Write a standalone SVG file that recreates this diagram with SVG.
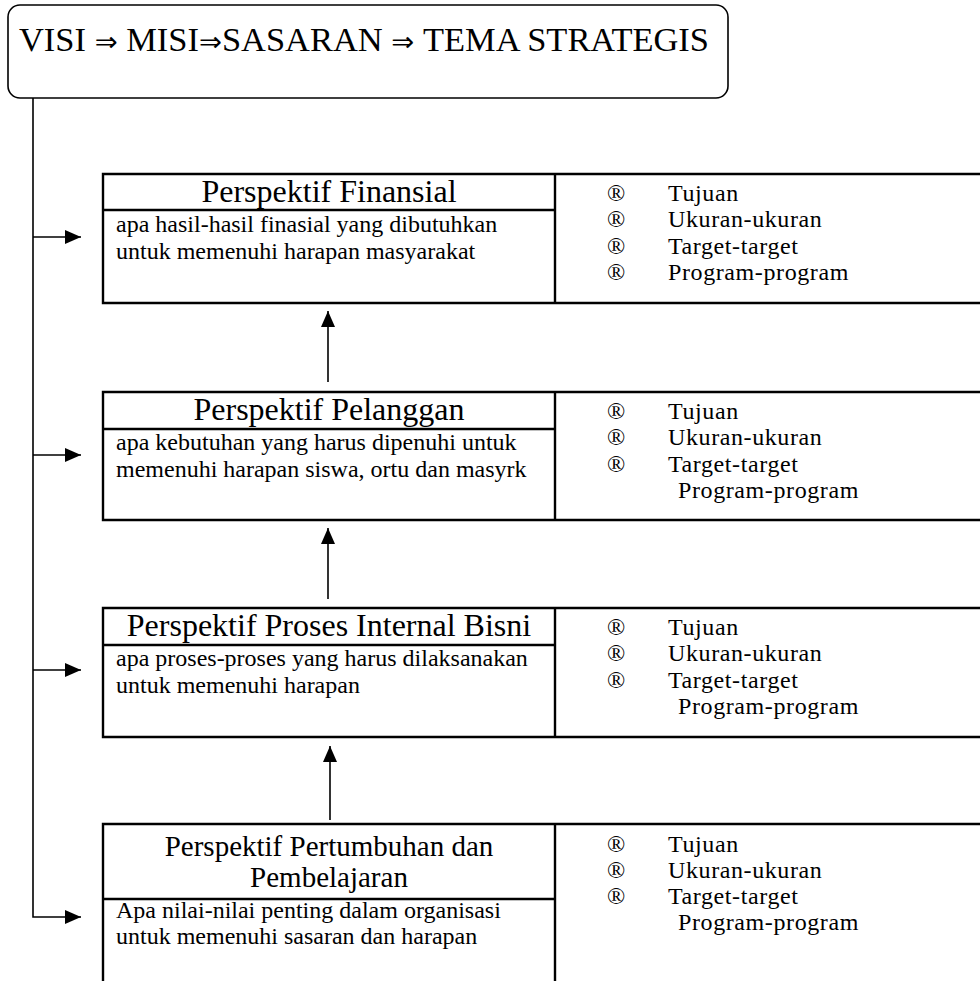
<svg xmlns="http://www.w3.org/2000/svg" width="980" height="981" viewBox="0 0 980 981">
<style>
text{font-family:"Liberation Serif","Times New Roman",serif;fill:#000}
.box{fill:none;stroke:#000;stroke-width:2.4}
.ln{fill:none;stroke:#000;stroke-width:1.6}
.hd{font-size:32px;text-anchor:middle}
.hd2{font-size:29px;text-anchor:middle}
.ds{font-size:24px}
.it{font-size:24px;letter-spacing:0.6px}
.tt{font-size:34px}
.ar{font-family:"DejaVu Sans",sans-serif;font-size:27px}
</style>
<defs>
<marker id="ahr" markerWidth="16" markerHeight="14" refX="16" refY="7" orient="auto" markerUnits="userSpaceOnUse" viewBox="0 0 16 14">
<path d="M0,0 L16,7 L0,14 Z" fill="#000"/>
</marker>
</defs>
<g id="top">
<rect x="8" y="5" width="720" height="93" rx="12" ry="12" fill="none" stroke="#000" stroke-width="1.6"/>
<text x="19" y="51" class="tt" textLength="690" lengthAdjust="spacingAndGlyphs">VISI<tspan class="ar"> ⇒ </tspan>MISI<tspan class="ar">⇒</tspan>SASARAN<tspan class="ar"> ⇒ </tspan> TEMA STRATEGIS</text>
</g>
<g id="connectors">
<path d="M33,98 V917 H81" class="ln" marker-end="url(#ahr)"/>
<path d="M33,237 H81" class="ln" marker-end="url(#ahr)"/>
<path d="M33,455 H81" class="ln" marker-end="url(#ahr)"/>
<path d="M33,670 H81" class="ln" marker-end="url(#ahr)"/>
<path d="M328,382 V311" class="ln" marker-end="url(#ahr)"/>
<path d="M328,599 V528" class="ln" marker-end="url(#ahr)"/>
<path d="M330,820 V746" class="ln" marker-end="url(#ahr)"/>
</g>
<g id="finansial">
<path d="M980,174 H103 V303 H980 M555,174 V303 M103,210 H555" class="box"/>
<text x="329" y="202" class="hd">Perspektif Finansial</text>
<text x="116" y="232" class="ds">apa hasil-hasil finasial yang dibutuhkan</text>
<text x="116" y="259" class="ds">untuk memenuhi harapan masyarakat</text>
<text x="607" y="201" class="it">®</text><text x="668" y="201" class="it">Tujuan</text>
<text x="607" y="227" class="it">®</text><text x="668" y="227" class="it">Ukuran-ukuran</text>
<text x="607" y="254" class="it">®</text><text x="668" y="254" class="it">Target-target</text>
<text x="607" y="280" class="it">®</text><text x="668" y="280" class="it">Program-program</text>
</g>
<g id="pelanggan">
<path d="M980,392 H103 V520 H980 M555,392 V520 M103,429 H555" class="box"/>
<text x="329" y="420" class="hd">Perspektif Pelanggan</text>
<text x="116" y="450" class="ds">apa kebutuhan yang harus dipenuhi untuk</text>
<text x="116" y="477" class="ds">memenuhi harapan siswa, ortu dan masyrk</text>
<text x="607" y="419" class="it">®</text><text x="668" y="419" class="it">Tujuan</text>
<text x="607" y="445" class="it">®</text><text x="668" y="445" class="it">Ukuran-ukuran</text>
<text x="607" y="472" class="it">®</text><text x="668" y="472" class="it">Target-target</text>
<text x="678" y="498" class="it">Program-program</text>
</g>
<g id="proses">
<path d="M980,608 H103 V737 H980 M555,608 V737 M103,645 H555" class="box"/>
<text x="329" y="636" class="hd">Perspektif Proses Internal Bisni</text>
<text x="116" y="666" class="ds">apa proses-proses yang harus dilaksanakan</text>
<text x="116" y="693" class="ds">untuk memenuhi harapan</text>
<text x="607" y="635" class="it">®</text><text x="668" y="635" class="it">Tujuan</text>
<text x="607" y="661" class="it">®</text><text x="668" y="661" class="it">Ukuran-ukuran</text>
<text x="607" y="688" class="it">®</text><text x="668" y="688" class="it">Target-target</text>
<text x="678" y="714" class="it">Program-program</text>
</g>
<g id="pertumbuhan">
<path d="M103,981 V824 H980 M555,824 V981 M103,899 H555" class="box"/>
<text class="hd2"><tspan x="329" y="856">Perspektif Pertumbuhan dan</tspan><tspan x="329" y="887">Pembelajaran</tspan></text>
<text x="116" y="918" class="ds">Apa nilai-nilai penting dalam organisasi</text>
<text x="116" y="944" class="ds">untuk memenuhi sasaran dan harapan</text>
<text x="607" y="852" class="it">®</text><text x="668" y="852" class="it">Tujuan</text>
<text x="607" y="878" class="it">®</text><text x="668" y="878" class="it">Ukuran-ukuran</text>
<text x="607" y="904" class="it">®</text><text x="668" y="904" class="it">Target-target</text>
<text x="678" y="930" class="it">Program-program</text>
</g>
</svg>
